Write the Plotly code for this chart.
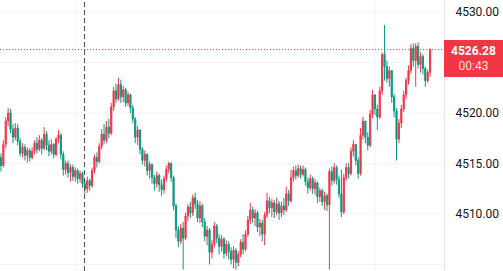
import plotly.graph_objects as go

# ---- data ----
first_open = 4515.6
closes = [
    4514.8, 4516.9, 4519.2, 4520.0, 4518.4, 4517.6, 4518.5, 4517.2, 4516.0, 4516.6,
    4515.8, 4516.3, 4515.6, 4516.2, 4517.0, 4516.4, 4517.3, 4516.5, 4517.9, 4516.8,
    4516.2, 4516.9, 4515.9, 4517.4, 4517.8, 4515.9, 4514.4, 4515.0, 4514.1, 4514.6,
    4513.7, 4514.3, 4513.5, 4514.0, 4513.0, 4512.5, 4513.3, 4512.8, 4514.3, 4515.6,
    4515.2, 4516.7, 4517.9, 4517.3, 4518.6, 4518.0, 4520.6, 4522.2, 4521.4, 4522.8,
    4521.6, 4522.3, 4521.0, 4521.8, 4520.5, 4519.4, 4517.6, 4518.3, 4516.4, 4515.3,
    4515.9, 4514.3, 4514.9, 4513.6, 4513.0, 4513.8, 4512.9, 4512.4, 4513.5, 4514.4,
    4515.0, 4513.6, 4510.8, 4508.4, 4507.3, 4508.6, 4507.6, 4509.8, 4510.7, 4510.1,
    4511.6, 4511.0, 4509.6, 4510.8, 4509.2, 4507.8, 4508.4, 4506.2, 4507.0, 4508.8,
    4507.6, 4506.8, 4507.5, 4506.1, 4507.0, 4506.3, 4505.5, 4506.4, 4505.2, 4506.0,
    4507.2, 4506.5, 4508.0, 4509.4, 4510.4, 4509.6, 4510.1, 4508.7, 4509.1, 4508.0,
    4509.9, 4511.3, 4510.6, 4511.1, 4510.2, 4511.0, 4510.1, 4510.8, 4510.4, 4512.0,
    4511.3, 4513.6, 4514.3, 4513.8, 4514.5, 4513.9, 4514.4, 4513.2, 4512.6, 4513.5,
    4512.5, 4513.1, 4511.7, 4512.3, 4511.2, 4511.8, 4510.9, 4514.2, 4513.3, 4514.6,
    4513.4, 4512.0, 4510.2, 4513.6, 4514.6, 4514.0, 4516.2, 4516.9, 4515.3, 4514.0,
    4517.8, 4519.2, 4517.6, 4516.8, 4519.9, 4521.8, 4520.4, 4519.6, 4522.2, 4525.8,
    4524.6, 4523.4, 4524.2, 4521.6, 4520.2, 4517.4, 4519.0, 4520.4, 4521.8, 4523.2,
    4524.2, 4526.4, 4525.2, 4526.6, 4524.8, 4525.6, 4524.4, 4523.2, 4524.0, 4526.28,
]
highs = [
    4516.0, 4517.3, 4519.6, 4520.5, 4520.4, 4518.9, 4519.0, 4518.9, 4517.5, 4517.0,
    4516.9, 4516.6, 4516.5, 4516.6, 4517.3, 4517.6, 4517.8, 4517.5, 4518.6, 4518.2,
    4517.3, 4517.4, 4517.0, 4517.6, 4518.3, 4518.0, 4516.2, 4515.3, 4515.3, 4514.9,
    4514.9, 4514.6, 4514.5, 4514.3, 4514.2, 4513.4, 4513.7, 4513.5, 4514.6, 4515.9,
    4516.1, 4517.0, 4518.4, 4518.9, 4519.2, 4519.4, 4521.0, 4522.6, 4522.9, 4523.5,
    4523.3, 4522.7, 4522.5, 4522.1, 4521.9, 4520.8, 4519.6, 4518.7, 4518.4, 4516.6,
    4516.3, 4516.0, 4515.2, 4515.0, 4513.9, 4514.2, 4514.0, 4513.4, 4513.8, 4514.8,
    4515.2, 4515.1, 4513.8, 4511.0, 4508.8, 4509.0, 4509.2, 4510.1, 4511.0, 4511.2,
    4511.9, 4512.1, 4511.4, 4511.3, 4511.0, 4509.6, 4508.8, 4508.6, 4507.4, 4509.2,
    4509.0, 4508.0, 4507.9, 4507.7, 4507.4, 4507.3, 4506.7, 4506.8, 4506.6, 4506.3,
    4507.5, 4508.0, 4508.4, 4509.8, 4511.1, 4510.7, 4510.5, 4510.3, 4509.5, 4509.4,
    4510.2, 4512.1, 4511.7, 4511.5, 4511.4, 4511.6, 4511.3, 4511.2, 4511.6, 4512.7,
    4512.4, 4514.4, 4514.7, 4514.8, 4514.9, 4514.8, 4514.8, 4514.6, 4513.6, 4513.9,
    4513.7, 4513.5, 4513.2, 4512.6, 4512.5, 4512.2, 4512.0, 4514.5, 4514.7, 4515.0,
    4514.8, 4513.8, 4514.4, 4514.0, 4515.0, 4515.0, 4516.6, 4517.3, 4516.6, 4515.6,
    4518.5, 4519.6, 4519.0, 4518.1, 4520.3, 4522.3, 4521.6, 4520.8, 4522.6, 4526.0,
    4528.7, 4525.2, 4524.6, 4524.0, 4521.9, 4520.5, 4519.4, 4520.8, 4522.2, 4523.5,
    4524.7, 4526.8, 4526.9, 4526.9, 4527.0, 4526.0, 4525.8, 4524.6, 4524.3, 4526.4,
]
lows = [
    4514.2, 4514.6, 4516.5, 4518.7, 4518.0, 4517.0, 4517.3, 4516.8, 4515.7, 4515.6,
    4515.3, 4515.1, 4515.2, 4515.4, 4515.9, 4516.0, 4516.2, 4515.9, 4516.3, 4516.3,
    4515.7, 4515.9, 4515.5, 4515.7, 4517.0, 4515.4, 4513.8, 4513.9, 4513.6, 4513.2,
    4513.3, 4513.2, 4513.0, 4513.1, 4512.6, 4512.0, 4512.1, 4512.3, 4512.6, 4514.0,
    4514.6, 4515.0, 4516.4, 4516.9, 4517.0, 4517.5, 4517.8, 4520.2, 4521.0, 4521.2,
    4521.0, 4521.1, 4520.6, 4520.7, 4520.0, 4519.0, 4517.0, 4516.8, 4515.9, 4514.9,
    4514.7, 4513.8, 4513.5, 4513.0, 4512.3, 4512.6, 4512.2, 4511.8, 4512.0, 4513.2,
    4514.0, 4513.2, 4510.4, 4507.6, 4506.7, 4507.0, 4504.5, 4507.4, 4509.3, 4509.6,
    4509.8, 4510.5, 4509.2, 4509.1, 4508.7, 4507.3, 4506.9, 4505.0, 4505.6, 4506.7,
    4507.1, 4506.0, 4506.3, 4505.6, 4505.8, 4505.5, 4505.0, 4504.6, 4504.5, 4504.8,
    4505.7, 4506.0, 4506.3, 4507.7, 4509.0, 4509.1, 4508.8, 4508.2, 4507.8, 4507.3,
    4506.9, 4509.6, 4510.1, 4509.7, 4509.6, 4509.9, 4509.4, 4509.7, 4509.9, 4510.2,
    4510.8, 4511.1, 4513.2, 4513.4, 4513.6, 4513.5, 4513.7, 4512.8, 4512.0, 4512.3,
    4512.0, 4511.9, 4511.1, 4511.2, 4510.8, 4510.4, 4510.3, 4504.5, 4512.8, 4513.0,
    4512.9, 4511.6, 4509.7, 4510.0, 4513.3, 4513.5, 4513.8, 4515.7, 4514.8, 4513.5,
    4513.8, 4517.4, 4517.0, 4516.3, 4516.6, 4519.5, 4519.8, 4518.3, 4519.4, 4521.8,
    4523.2, 4523.0, 4522.6, 4521.0, 4519.6, 4515.3, 4517.0, 4518.5, 4520.1, 4521.4,
    4522.8, 4523.9, 4524.6, 4522.6, 4524.4, 4524.0, 4523.8, 4522.6, 4523.0, 4523.6,
]
opens = [first_open] + closes[:-1]
x_idx = list(range(len(closes)))

grid_levels = [4505, 4510, 4515, 4520, 4525, 4530]
y_ticks = [4505, 4510, 4515, 4520, 4530]          # 4525 label hidden under price tag
y_tick_text = [f"{v:.2f}" for v in y_ticks]
last_price = closes[-1]
last_price_text = f"{last_price:.2f}"
countdown_text = "00:43"

UP = "#F23645"
DOWN = "#089981"

# guard wicks to enclose bodies
highs = [max(h, o, c) for h, o, c in zip(highs, opens, closes)]
lows = [min(l, o, c) for l, o, c in zip(lows, opens, closes)]

shapes = [
    dict(type="line", xref="paper", yref="y", x0=0, x1=1, y0=g, y1=g,
         line=dict(color="#f0f3fa", width=1), layer="below")
    for g in grid_levels
]
shapes += [
    dict(type="line", xref="paper", yref="paper", x0=76/444, x1=76/444, y0=0, y1=1,
         line=dict(color="#f0f3fa", width=1), layer="below"),
    dict(type="line", xref="paper", yref="paper", x0=375/444, x1=375/444, y0=0, y1=1,
         line=dict(color="#f0f3fa", width=1), layer="below"),
    dict(type="line", xref="paper", yref="paper", x0=84.5/444, x1=84.5/444, y0=0, y1=1,
         line=dict(color="#50535e", width=1, dash="5px,3px")),
    dict(type="line", xref="paper", yref="y", x0=0, x1=1, y0=last_price, y1=last_price,
         line=dict(color=UP, width=1, dash="1px,2px")),
]

fig = go.Figure(go.Candlestick(
    x=x_idx, open=opens, high=highs, low=lows, close=closes,
    increasing=dict(line=dict(color=UP, width=1), fillcolor=UP),
    decreasing=dict(line=dict(color=DOWN, width=1), fillcolor=DOWN),
    whiskerwidth=0, showlegend=False, hoverinfo="skip",
))

fig.update_layout(
    width=503, height=271,
    margin=dict(l=0, r=59, t=0, b=0),
    paper_bgcolor="white", plot_bgcolor="white",
    font=dict(family="Roboto, Arial, sans-serif", size=12, color="#131722"),
    xaxis=dict(visible=False, range=[-0.4, 184.8], rangeslider=dict(visible=False),
               showgrid=False),
    yaxis=dict(side="right", range=[4504.35, 4531.19], tickvals=y_ticks,
               ticktext=y_tick_text, showgrid=False, zeroline=False,
               showline=True, linecolor="#e0e3eb", linewidth=1, ticks="",
               ticklabelstandoff=8, tickfont=dict(size=12, color="#131722")),
    shapes=shapes,
    annotations=[
        dict(xref="paper", yref="y", x=1, y=last_price, xanchor="left", yanchor="top",
             yshift=10, showarrow=False, align="center",
             text=f"<b>{last_price_text}</b><br><span style='color:rgba(255,255,255,0.85)'>{countdown_text}</span>",
             font=dict(size=12, color="white"), bgcolor=UP, width=59, height=37,
             borderpad=0, borderwidth=0),
    ],
)

fig.write_html("out.html")
